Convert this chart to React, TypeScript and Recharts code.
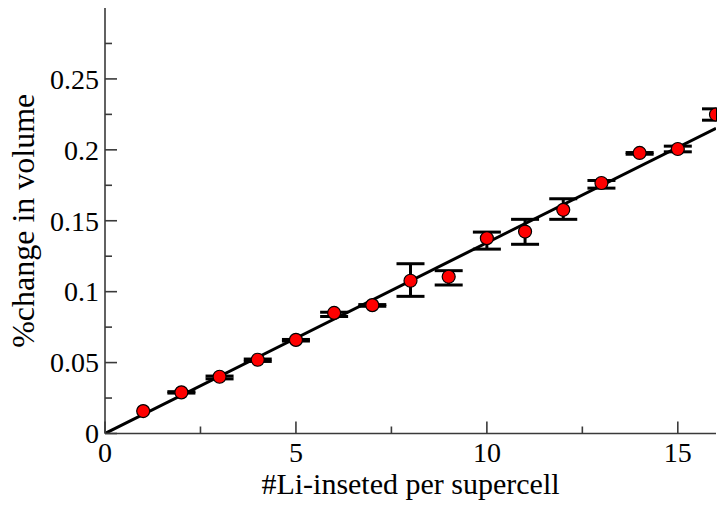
import React from "react";
import { ComposedChart, Scatter, Line, XAxis, YAxis, ErrorBar } from "recharts";

// measured points: number of Li inserted vs % change in volume
const liCount = [1, 2, 3, 4, 5, 6, 7, 8, 9, 10, 11, 12, 13, 14, 15, 16];
const volumeChange = [
  0.0158, 0.029, 0.04, 0.052, 0.066, 0.085, 0.0905, 0.1077, 0.1105, 0.1377, 0.1424, 0.1577, 0.1766, 0.1978,
  0.2006, 0.2249,
];
// [below, above] error offsets
const errLow = [null, 0.0005, 0.0015, 0.0012, 0.0008, 0.0025, 0.0008, 0.011, 0.0058, 0.0077, 0.009, 0.0067, 0.0036, 0.0009, 0.002, 0.004];
const errHigh = [null, 0.0005, 0.0005, 0.0005, 0.0003, 0.0005, 0.0004, 0.012, 0.0043, 0.0043, 0.0086, 0.0078, 0.0018, 0.0003, 0.002, 0.004];

// linear fit through origin
const fitX = [0, 16];
const fitY = [0, 0.2152];

const xMajorTicks = [0, 5, 10, 15];
const xMinorTicks = [2.5, 7.5, 12.5];
const yMajorTicks = [0, 0.05, 0.1, 0.15, 0.2, 0.25];
const yMinorTicks = [0.025, 0.075, 0.125, 0.175, 0.225, 0.275];

const points = liCount.map((x, i) => ({
  x,
  y: volumeChange[i],
  err: errLow[i] == null ? null : [errLow[i], errHigh[i]],
}));
const fitData = fitX.map((x, i) => ({ x, y: fitY[i] }));

const xTicks = [...xMajorTicks, ...xMinorTicks].sort((a, b) => a - b);
const yTicks = [...yMajorTicks, ...yMinorTicks].sort((a, b) => a - b);

const isMajor = (list: number[], v: number) => list.some((m) => Math.abs(m - v) < 1e-9);

const FONT = '"Liberation Serif", "DejaVu Serif", "Times New Roman", Tinos, "Noto Serif", serif';
const AXIS = "#3a3a3a";
const MAJOR = 12;
const MINOR = 7;
const textStyle = { fontFamily: FONT, fill: "#000" };

function BottomTick({ x, y, payload }: any) {
  const major = isMajor(xMajorTicks, payload.value);
  return (
    <g>
      <line x1={x} y1={y} x2={x} y2={y - (major ? MAJOR : MINOR)} stroke={AXIS} strokeWidth={1.6} />
      {major && (
        <text x={x} y={y + 28.5} textAnchor="middle" fontSize={28} style={textStyle}>
          {payload.value}
        </text>
      )}
    </g>
  );
}

function TopTick({ x, y, payload }: any) {
  const major = isMajor(xMajorTicks, payload.value);
  return <line x1={x} y1={y} x2={x} y2={y + (major ? MAJOR : MINOR)} stroke={AXIS} strokeWidth={1.6} />;
}

function LeftTick({ x, y, payload }: any) {
  const major = isMajor(yMajorTicks, payload.value);
  return (
    <g>
      <line x1={x} y1={y} x2={x + (major ? MAJOR : MINOR)} y2={y} stroke={AXIS} strokeWidth={1.6} />
      {major && (
        <text x={x - 6} y={y} dy="0.35em" textAnchor="end" fontSize={28} style={textStyle}>
          {String(payload.value)}
        </text>
      )}
    </g>
  );
}

function RightTick({ x, y, payload }: any) {
  const major = isMajor(yMajorTicks, payload.value);
  return <line x1={x} y1={y} x2={x - (major ? MAJOR : MINOR)} y2={y} stroke={AXIS} strokeWidth={1.6} />;
}

function RedDot({ cx, cy }: any) {
  return <circle cx={cx} cy={cy} r={6.5} fill="#ff0000" stroke="#000" strokeWidth={1.2} />;
}

function NoDot() {
  return <g />;
}

function XTitle({ viewBox }: any) {
  return (
    <text
      x={viewBox.x + viewBox.width / 2}
      y={viewBox.y + viewBox.height - 14}
      textAnchor="middle"
      fontSize={30}
      style={textStyle}
    >
      #Li-inseted per supercell
    </text>
  );
}

function YTitle({ viewBox }: any) {
  const cy = viewBox.y + viewBox.height / 2;
  return (
    <text
      x={34}
      y={cy}
      transform={`rotate(-90 34 ${cy})`}
      textAnchor="middle"
      fontSize={32}
      style={textStyle}
    >
      %change in volume
    </text>
  );
}

export default function App() {
  return (
    <div style={{ position: "absolute", left: 0, top: 0, background: "#fff" }}>
      <ComposedChart width={717} height={508} margin={{ top: 8, right: 1, bottom: 0, left: 0 }}>
        <XAxis
          dataKey="x"
          type="number"
          domain={[0, 16]}
          ticks={xTicks}
          interval={0}
          tickSize={0}
          tickMargin={0}
          height={74.5}
          axisLine={{ stroke: AXIS, strokeWidth: 1.6 }}
          tick={<BottomTick />}
          allowDataOverflow
          label={{ content: <XTitle /> }}
        />
        <XAxis
          xAxisId="top"
          orientation="top"
          dataKey="x"
          type="number"
          domain={[0, 16]}
          ticks={xTicks}
          interval={0}
          tickSize={0}
          tickMargin={0}
          height={0}
          axisLine={{ stroke: AXIS, strokeWidth: 1.6 }}
          tick={<TopTick />}
          allowDataOverflow
        />
        <YAxis
          dataKey="y"
          type="number"
          domain={[0, 0.3]}
          ticks={yTicks}
          interval={0}
          tickSize={0}
          tickMargin={0}
          width={105}
          axisLine={{ stroke: AXIS, strokeWidth: 1.6 }}
          tick={<LeftTick />}
          allowDataOverflow
          label={{ content: <YTitle /> }}
        />
        <YAxis
          yAxisId="right"
          orientation="right"
          type="number"
          domain={[0, 0.3]}
          ticks={yTicks}
          interval={0}
          tickSize={0}
          tickMargin={0}
          width={0}
          axisLine={{ stroke: AXIS, strokeWidth: 1.6 }}
          tick={<RightTick />}
          allowDataOverflow
        />
        <Scatter data={points} dataKey="y" shape={<RedDot />} isAnimationActive={false} />
        <Line
          data={fitData}
          dataKey="y"
          stroke="#000"
          strokeWidth={3}
          dot={false}
          activeDot={false}
          isAnimationActive={false}
        />
        <Scatter data={points} dataKey="y" shape={<NoDot />} isAnimationActive={false}>
          <ErrorBar dataKey="err" direction="y" width={14} stroke="#000" strokeWidth={3} />
        </Scatter>
      </ComposedChart>
    </div>
  );
}
